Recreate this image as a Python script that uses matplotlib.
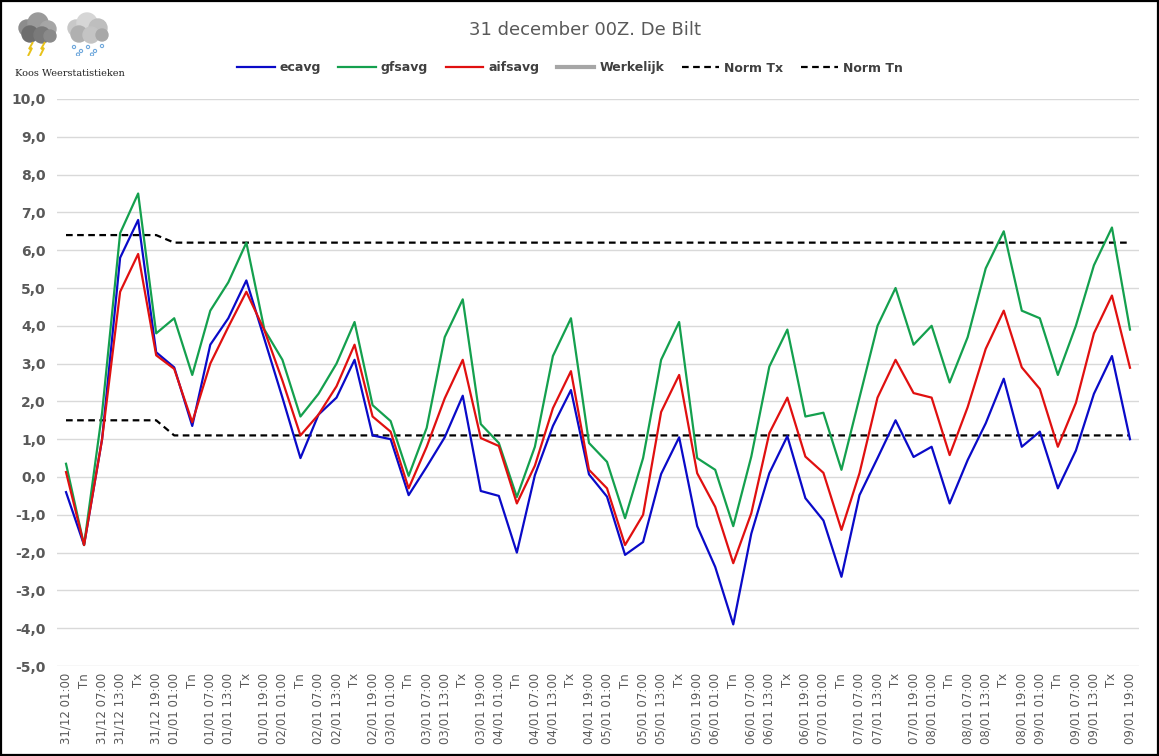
import matplotlib
matplotlib.use("Agg")
import matplotlib.pyplot as plt
from matplotlib.patches import Circle, Rectangle, Polygon
import numpy as np

# ---------------- data ----------------
days = ["31/12", "01/01", "02/01", "03/01", "04/01", "05/01", "06/01", "07/01", "08/01", "09/01"]
slots = ["01:00", "Tn", "07:00", "13:00", "Tx", "19:00"]
labels = []
for d in days:
    for s in slots:
        labels.append(s if s in ("Tn", "Tx") else f"{d} {s}")

ecavg = [-0.4, -1.8, 1.0, 5.8, 6.8, 3.3,
         2.9, 1.35, 3.5, 4.2, 5.2, 3.65,
         2.1, 0.5, 1.65, 2.1, 3.1, 1.1,
         1.0, -0.48, 0.27, 1.05, 2.15, -0.37,
         -0.5, -2.0, 0.05, 1.35, 2.3, 0.07,
         -0.52, -2.06, -1.72, 0.08, 1.05, -1.3,
         -2.38, -3.9, -1.5, 0.1, 1.08, -0.56,
         -1.15, -2.64, -0.48, 0.5, 1.5, 0.53,
         0.8, -0.7, 0.45, 1.42, 2.6, 0.8,
         1.2, -0.3, 0.7, 2.2, 3.2, 1.0]

gfsavg = [0.35, -1.8, 1.7, 6.45, 7.5, 3.8,
          4.2, 2.7, 4.4, 5.15, 6.2, 3.9,
          3.1, 1.6, 2.2, 3.0, 4.1, 1.9,
          1.48, 0.03, 1.3, 3.7, 4.7, 1.4,
          0.9, -0.53, 0.8, 3.2, 4.2, 0.9,
          0.4, -1.09, 0.5, 3.1, 4.1, 0.5,
          0.19, -1.3, 0.54, 2.92, 3.9, 1.6,
          1.7, 0.19, 2.1, 4.0, 5.0, 3.5,
          4.0, 2.5, 3.7, 5.52, 6.5, 4.4,
          4.2, 2.7, 4.0, 5.6, 6.6, 3.9]

aifsavg = [0.13, -1.8, 1.0, 4.9, 5.9, 3.22,
           2.86, 1.45, 3.0, 3.97, 4.9, 3.88,
           2.55, 1.1, 1.65, 2.4, 3.5, 1.6,
           1.2, -0.3, 0.8, 2.08, 3.1, 1.03,
           0.82, -0.7, 0.3, 1.82, 2.8, 0.19,
           -0.3, -1.8, -1.0, 1.72, 2.7, 0.1,
           -0.79, -2.28, -0.96, 1.16, 2.1, 0.54,
           0.11, -1.4, 0.1, 2.1, 3.1, 2.22,
           2.1, 0.58, 1.85, 3.39, 4.4, 2.9,
           2.33, 0.8, 1.96, 3.8, 4.8, 2.89]

werkelijk = []  # no observations yet

norm_tx = [6.4, 6.4, 6.4, 6.4, 6.4, 6.4,
           6.2, 6.2, 6.2, 6.2, 6.2, 6.2,
           6.2, 6.2, 6.2, 6.2, 6.2, 6.2,
           6.2, 6.2, 6.2, 6.2, 6.2, 6.2,
           6.2, 6.2, 6.2, 6.2, 6.2, 6.2,
           6.2, 6.2, 6.2, 6.2, 6.2, 6.2,
           6.2, 6.2, 6.2, 6.2, 6.2, 6.2,
           6.2, 6.2, 6.2, 6.2, 6.2, 6.2,
           6.2, 6.2, 6.2, 6.2, 6.2, 6.2,
           6.2, 6.2, 6.2, 6.2, 6.2, 6.2]

norm_tn = [1.5, 1.5, 1.5, 1.5, 1.5, 1.5,
           1.1, 1.1, 1.1, 1.1, 1.1, 1.1,
           1.1, 1.1, 1.1, 1.1, 1.1, 1.1,
           1.1, 1.1, 1.1, 1.1, 1.1, 1.1,
           1.1, 1.1, 1.1, 1.1, 1.1, 1.1,
           1.1, 1.1, 1.1, 1.1, 1.1, 1.1,
           1.1, 1.1, 1.1, 1.1, 1.1, 1.1,
           1.1, 1.1, 1.1, 1.1, 1.1, 1.1,
           1.1, 1.1, 1.1, 1.1, 1.1, 1.1,
           1.1, 1.1, 1.1, 1.1, 1.1, 1.1]

title = "31 december 00Z. De Bilt"
yticks = [-5, -4, -3, -2, -1, 0, 1, 2, 3, 4, 5, 6, 7, 8, 9, 10]

# ---------------- figure ----------------
W, H = 1159, 756
fig = plt.figure(figsize=(W / 100, H / 100), dpi=100)
fig.patch.set_facecolor("white")

ax = fig.add_axes([57 / W, 1 - 666 / H, (1139 - 57) / W, (666 - 99) / H])
x = np.arange(len(labels))

c_blue = "#0A0AC8"
c_green = "#14A04E"
c_red = "#E01010"
c_grey = "#A6A6A6"

ax.plot(x, ecavg, color=c_blue, lw=1.6, label="ecavg", zorder=3)
ax.plot(x, gfsavg, color=c_green, lw=1.6, label="gfsavg", zorder=3)
ax.plot(x, aifsavg, color=c_red, lw=1.6, label="aifsavg", zorder=3)
ax.plot(np.arange(len(werkelijk)), werkelijk, color=c_grey, lw=3, label="Werkelijk", zorder=3)
ax.plot(x, norm_tx, color="black", lw=1.6, ls=(0, (3, 2)), label="Norm Tx", zorder=2)
ax.plot(x, norm_tn, color="black", lw=1.6, ls=(0, (3, 2)), label="Norm Tn", zorder=2)

ax.set_xlim(-0.5, len(labels) - 0.5)
ax.set_ylim(-5, 10)
ax.set_yticks(yticks)
ax.set_yticklabels([f"{v:.1f}".replace(".", ",") for v in yticks],
                   fontsize=10, fontweight="bold", color="#595959")
ax.set_xticks(x)
ax.set_xticklabels(labels, rotation=90, fontsize=8.5, color="#595959")
ax.tick_params(axis="both", length=0, pad=8)
ax.tick_params(axis="x", pad=5)
ax.grid(axis="y", color="#D9D9D9", lw=1)
ax.set_axisbelow(True)
for s in ax.spines.values():
    s.set_visible(False)

fig.text(585 / W, 1 - 30 / H, title, ha="center", va="center", fontsize=13, color="#595959")

leg = fig.legend(loc="center", bbox_to_anchor=(570 / W, 1 - 68 / H), ncol=6, frameon=False,
                 handlelength=3.0, columnspacing=1.4, handletextpad=0.4,
                 prop={"weight": "bold", "size": 9})
for t in leg.get_texts():
    t.set_color("#404040")

fig.text(15 / W, 1 - 73 / H, "Koos Weerstatistieken", ha="left", va="center",
         fontsize=7, family="DejaVu Serif", color="#222222")

# simple weather icons
iax = fig.add_axes([14 / W, 1 - 56 / H, 106 / W, 44 / H])
iax.set_xlim(0, 106)
iax.set_ylim(0, 44)
iax.axis("off")
for cx, cy, r, col in [(13, 28, 8, "#8C8C8C"), (24, 33, 10, "#9A9A9A"), (34, 27, 8, "#A6A6A6"),
                       (16, 22, 8, "#6E6E6E"), (28, 21, 8, "#7A7A7A"), (36, 20, 6, "#8A8A8A")]:
    iax.add_patch(Circle((cx, cy), r, color=col, zorder=2))
for bx in (17, 29):
    iax.add_patch(Polygon([(bx + 2, 14), (bx - 2, 7), (bx + 1, 8), (bx - 3, 0)], closed=False,
                          fill=False, edgecolor="#E8C21A", lw=1.4, zorder=3))
for cx, cy, r, col in [(62, 28, 8, "#C8C8C8"), (73, 33, 10, "#D6D6D6"), (84, 28, 9, "#BEBEBE"),
                       (65, 22, 8, "#B0B0B0"), (77, 21, 8, "#C4C4C4"), (88, 21, 6, "#A8A8A8")]:
    iax.add_patch(Circle((cx, cy), r, color=col, zorder=2))
for sx, sy in [(60, 9), (67, 5), (74, 9), (81, 5), (88, 10), (64, 1.5), (78, 1.5)]:
    iax.add_patch(Circle((sx, sy), 1.6, fill=False, edgecolor="#6FA8DC", lw=0.8, zorder=3))

# outer frame
fig.add_artist(Rectangle((0.0008, 0.0012), 0.9984, 0.9976, transform=fig.transFigure,
                         fill=False, edgecolor="black", lw=1.6))

fig.savefig("out.png", dpi=100)
